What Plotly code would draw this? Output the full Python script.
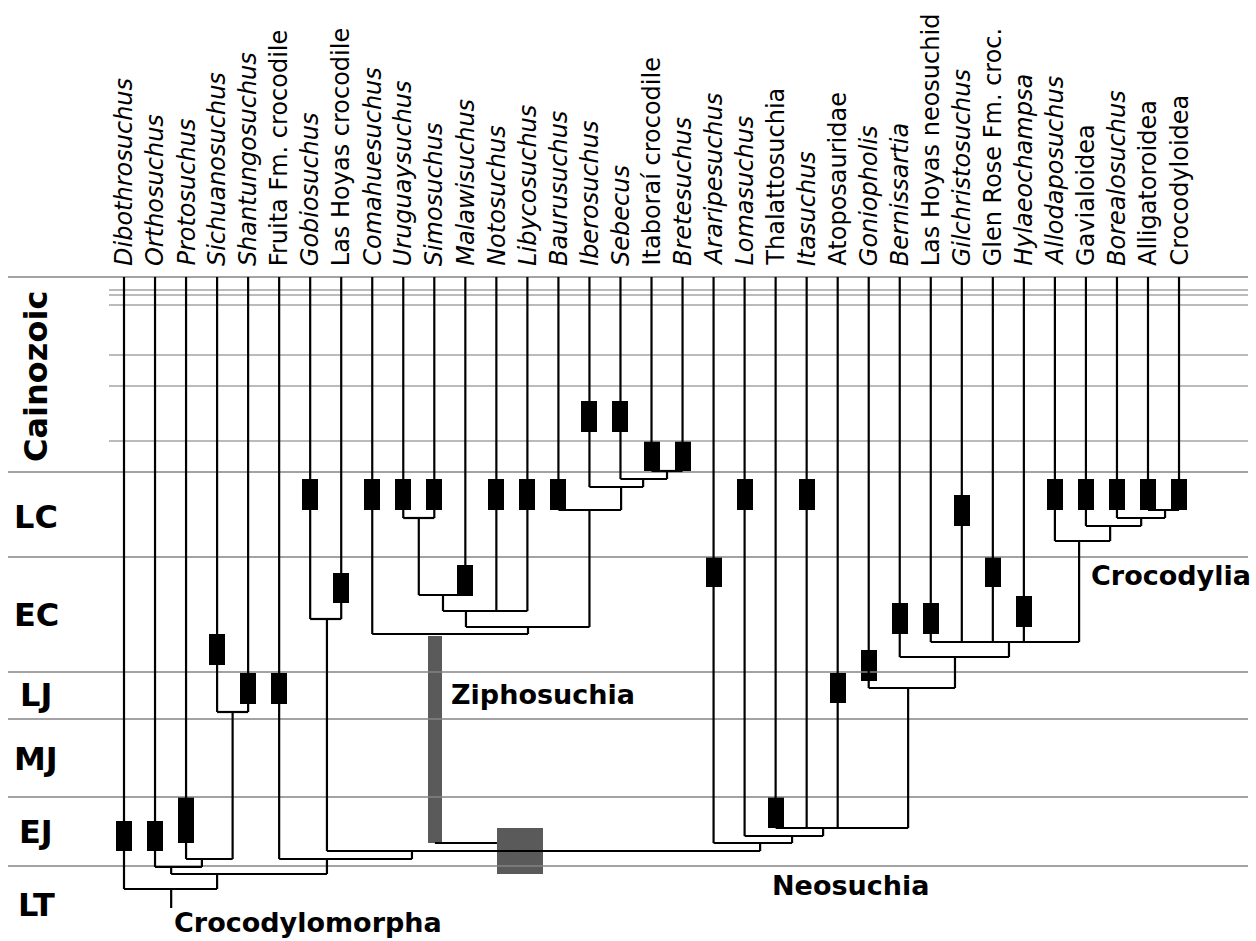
import plotly.graph_objects as go

# ---------------- data ----------------
taxa = ["Dibothrosuchus", "Orthosuchus", "Protosuchus", "Sichuanosuchus",
        "Shantungosuchus", "Fruita Fm. crocodile", "Gobiosuchus",
        "Las Hoyas crocodile", "Comahuesuchus", "Uruguaysuchus", "Simosuchus",
        "Malawisuchus", "Notosuchus", "Libycosuchus", "Baurusuchus",
        "Iberosuchus", "Sebecus", "Itaboraí crocodile", "Bretesuchus",
        "Araripesuchus", "Lomasuchus", "Thalattosuchia", "Itasuchus",
        "Atoposauridae", "Goniopholis", "Bernissartia", "Las Hoyas neosuchid",
        "Gilchristosuchus", "Glen Rose Fm. croc.", "Hylaeochampsa",
        "Allodaposuchus", "Gavialoidea", "Borealosuchus", "Alligatoroidea",
        "Crocodyloidea"]
italic = [1, 1, 1, 1, 1, 0, 1, 0, 1, 1, 1, 1, 1, 1, 1, 1, 1, 0, 1, 1, 1, 0,
          1, 0, 1, 1, 0, 1, 0, 1, 1, 0, 1, 0, 0]

# fossil range bars (chart depth units, top / bottom)
range_top = [821, 821, 797, 634, 673, 673, 479, 573, 479, 479, 479, 565, 479,
             479, 479, 401, 401, 441, 441, 557, 479, 797, 479, 673, 650, 603,
             603, 495, 557, 596, 479, 479, 479, 479, 479]
range_bottom = [851, 851, 843, 665, 704, 704, 510, 603, 510, 510, 510, 596,
                510, 510, 510, 432, 432, 471, 471, 587, 510, 828, 510, 703,
                681, 634, 634, 526, 587, 627, 510, 510, 510, 510, 510]

# geological intervals
period_names = ["Cainozoic", "LC", "EC", "LJ", "MJ", "EJ", "LT"]
period_label_depth = [377, 517, 615, 695, 759, 832, 905]
period_bounds = [277, 472, 557, 672, 719, 797, 866]
cainozoic_sub = [290, 295, 305, 355, 386, 441]

# tree nodes: name, depth, position (taxon-index units), children
nodes = [
    ("Itab+Bret", 471, 17.5, [17, 18]),
    ("Sebecidae", 479, 16.73, [16, "Itab+Bret"]),
    ("Sebecosuchia", 487, 16.02, [15, "Sebecidae"]),
    ("Baurus+", 510, 15.0, [14, "Sebecosuchia"]),
    ("Uru+Simo", 518, 9.5, [9, 10]),
    ("Malawi+", 595, 10.28, ["Uru+Simo", 11]),
    ("Notosuchidae", 611, 11.02, ["Malawi+", 12, 13]),
    ("Noto+Sebeco", 627, 13.02, ["Notosuchidae", "Baurus+"]),
    ("Ziphosuchia", 634, 10.02, [8, "Noto+Sebeco"]),
    ("Gobio+LH", 619, 6.54, [6, 7]),
    ("Allig+Croc", 510, 33.55, [33, 34]),
    ("Boreal+", 518, 32.78, [32, "Allig+Croc"]),
    ("Gavial+", 526, 31.78, [31, "Boreal+"]),
    ("Crocodylia", 541, 30.78, [30, "Gavial+"]),
    ("Eusuchia+", 642, 28.52, [26, 27, 28, 29, "Crocodylia"]),
    ("Bern+", 657, 26.78, [25, "Eusuchia+"]),
    ("Gonio+", 688, 25.27, [24, "Bern+"]),
    ("Thal+", 828, 22.53, [21, 22, 23, "Gonio+"]),
    ("Loma+", 836, 21.53, [20, "Thal+"]),
    ("Neosuchia", 843, 20.5, [19, "Loma+"]),
    ("Mesoeucrocodylia", 851, 12.76, ["Ziphosuchia", "Neosuchia"]),
    ("Gobio+Meso", 851, 9.28, ["Gobio+LH", "Mesoeucrocodylia"]),
    ("Fruita+", 859, 6.54, [5, "Gobio+Meso"]),
    ("Sich+Shan", 712, 3.5, [3, 4]),
    ("Proto+", 859, 2.51, [2, "Sich+Shan"]),
    ("Protosuchia", 867, 1.52, [1, "Proto+"]),
    ("Crocodyliformes", 874, 3.0, ["Protosuchia", "Fruita+"]),
    ("Crocodylomorpha", 889, 1.52, [0, "Crocodyliformes"]),
]
ziph_bar_bottom = 843
root_tick_depth = 908

clade_labels = ["Crocodylomorpha", "Ziphosuchia", "Neosuchia", "Crocodylia"]
clade_label_pos = [1.55, 10.47, 20.82, 31.1]
clade_label_depth = [922, 694, 885, 575]

# ---------------- geometry helpers ----------------
PX0, DX = 124.0, 31.03          # reference pixel of taxon 0 and spacing
X_RANGE = [(0 - PX0) / DX, (1256 - PX0) / DX]
def px(v):                      # pixel width -> taxon-index units
    return v / DX

pos = {i: float(i) for i in range(len(taxa))}
depth = {i: 277 for i in range(len(taxa))}
for name, d, p, ch in nodes:
    pos[name] = p
    depth[name] = d

lx, ly = [], []
def seg(x0, y0, x1, y1):
    lx.extend([x0, x1, None]); ly.extend([y0, y1, None])

for name, d, p, ch in nodes:
    xs = []
    for c in ch:
        if c == "Ziphosuchia":
            # joins the Mesoeucrocodylia box through a short horizontal
            seg(pos[c], ziph_bar_bottom, pos[name] - px(23), ziph_bar_bottom)
            continue
        xs.append(pos[c])
        seg(pos[c], depth[c], pos[c], d)
    if name == "Mesoeucrocodylia":
        xs.append(p)
    seg(min(xs), d, max(xs), d)
seg(pos["Crocodylomorpha"], depth["Crocodylomorpha"],
    pos["Crocodylomorpha"], root_tick_depth)

fig = go.Figure()

# interval boundaries
bx, by = [], []
for b in period_bounds:
    bx.extend([px(8 - PX0), px(1248 - PX0), None]); by.extend([b, b, None])
fig.add_trace(go.Scatter(x=bx, y=by, mode="lines",
                         line=dict(color="#848484", width=1.4),
                         hoverinfo="skip", showlegend=False))
sx, sy = [], []
for b in cainozoic_sub:
    sx.extend([px(109 - PX0), px(1248 - PX0), None]); sy.extend([b, b, None])
fig.add_trace(go.Scatter(x=sx, y=sy, mode="lines",
                         line=dict(color="#a4a4a4", width=1.3),
                         hoverinfo="skip", showlegend=False))

# tree lines
fig.add_trace(go.Scatter(x=lx, y=ly, mode="lines",
                         line=dict(color="black", width=2.2),
                         hoverinfo="skip", showlegend=False))

# fossil ranges
fig.add_trace(go.Bar(x=list(range(len(taxa))),
                     y=[b - t for t, b in zip(range_top, range_bottom)],
                     base=range_top, width=px(16),
                     marker=dict(color="black", line=dict(width=0)),
                     hoverinfo="skip", showlegend=False))
# Ziphosuchia ghost lineage bar and Mesoeucrocodylia box
zd = depth["Ziphosuchia"]
fig.add_trace(go.Bar(x=[pos["Ziphosuchia"]], y=[ziph_bar_bottom - zd - 2],
                     base=[zd + 2], width=px(14),
                     marker=dict(color="#5a5a5a", line=dict(width=0)),
                     hoverinfo="skip", showlegend=False))
md = depth["Mesoeucrocodylia"]
fig.add_trace(go.Bar(x=[pos["Mesoeucrocodylia"]], y=[46], base=[md - 23],
                     width=px(46),
                     marker=dict(color="#5a5a5a", line=dict(width=0)),
                     hoverinfo="skip", showlegend=False))

ann = []
for i, t in enumerate(taxa):
    txt = f"<i>{t}</i>" if italic[i] else t
    ann.append(dict(x=i, y=268, text=txt, textangle=-90, showarrow=False,
                    xanchor="center", yanchor="bottom", xref="x", yref="y",
                    font=dict(family="DejaVu Sans", size=24, color="black")))
for n, d in zip(period_names, period_label_depth):
    ann.append(dict(x=px(36 - PX0), y=d, text=n, showarrow=False,
                    textangle=-90 if n == "Cainozoic" else 0,
                    xanchor="center", yanchor="middle", xref="x", yref="y",
                    font=dict(family="DejaVu Sans", size=32, color="black",
                              weight="bold")))
for n, p, d in zip(clade_labels, clade_label_pos, clade_label_depth):
    ann.append(dict(x=p, y=d, text=n, showarrow=False, xanchor="left",
                    yanchor="middle", xref="x", yref="y",
                    font=dict(family="DejaVu Sans", size=27, color="black",
                              weight="bold")))

fig.update_layout(
    width=1256, height=941, margin=dict(l=0, r=0, t=0, b=0),
    paper_bgcolor="white", plot_bgcolor="white", barmode="overlay",
    xaxis=dict(range=X_RANGE, visible=False, fixedrange=True),
    yaxis=dict(range=[941, 0], visible=False, fixedrange=True),
    annotations=ann, bargap=0,
)
fig.write_html("out.html", config={"displayModeBar": False},
               post_script="document.body.style.margin='0';"
                           "document.body.style.overflow='hidden';")
